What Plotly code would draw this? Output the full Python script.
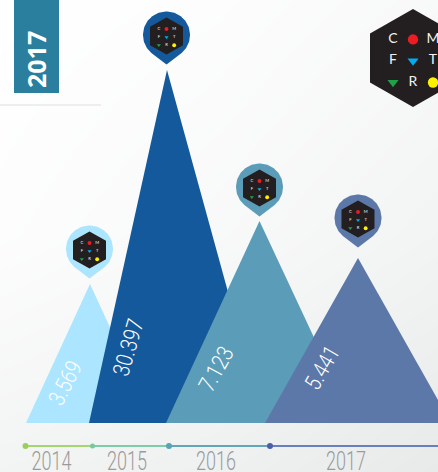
import numpy as np
import plotly.graph_objects as go

years = ["2014", "2015", "2016", "2017"]
labels = ["3.569", "30.397", "7.123", "5.441"]
peak_heights = [139, 353, 202, 165]
colors = ["#ABE5FF", "#14599B", "#5B9DB9", "#5B78A8"]
left_base = [26, 89, 166, 265]
peak_x = [90, 167, 259.5, 358]
right_base = [154, 264, 354, 451]
pin_center_y = [174, 388, 236, 205]
label_x = [65, 128, 216, 322]
label_y = [40, 75, 54, 55]
label_angle = [-63, -74, -61, -60]
label_len = [46, 58, 47, 46]
pin_x = [89.5, 166.5, 259.5, 358]
tick_x = [25.5, 92.5, 169, 270]
tick_colors = ["#9BCF5B", "#78C7A0", "#5AA3B5", "#4A5FA8"]
seg_colors = ["#A4D56E", "#80CBA8", "#62A6B8", "#6A80BE"]
year_label_x = [51.5, 127, 216, 346]
logo_rows = [["C", "●", "M"], ["F", "▼", "T"], ["▼", "R", "●"]]

fig = go.Figure()

# background wash
fig.add_trace(go.Heatmap(
    z=[[0.0, 0.1, 0.3], [0.1, 0.3, 0.55], [0.55, 0.7, 1.0]],
    x=[0, 219, 438], y=[423, 187, -49], zsmooth="best", showscale=False, hoverinfo="skip",
    colorscale=[[0, "#FFFFFF"], [1, "#E8EAEA"]], zmin=0, zmax=1))

for i in range(4):
    fig.add_trace(go.Scatter(
        x=[left_base[i], peak_x[i], right_base[i], left_base[i]],
        y=[0, peak_heights[i], 0, 0], mode="lines", fill="toself",
        fillcolor=colors[i], line=dict(width=0), hoverinfo="skip", showlegend=False))


def logo(cx, cy, rx, ry, s):
    fig.add_trace(go.Scatter(
        x=[cx, cx + rx, cx + rx, cx, cx - rx, cx - rx, cx],
        y=[cy + ry, cy + ry / 2, cy - ry / 2, cy - ry, cy - ry / 2, cy + ry / 2, cy + ry],
        mode="lines", fill="toself", fillcolor="#231F20", line=dict(width=0),
        hoverinfo="skip", showlegend=False))
    dx, dy = rx * 0.465, ry * 0.44
    y0 = cy - ry * 0.06
    chars_x, chars_y, chars = [], [], []
    for r, row in enumerate(logo_rows):
        for c, ch in enumerate(row):
            if ch in "●▼":
                continue
            chars_x.append(cx + (c - 1) * dx)
            chars_y.append(y0 + (1 - r) * dy)
            chars.append(ch)
    fig.add_trace(go.Scatter(x=chars_x, y=chars_y, text=chars, mode="text", hoverinfo="skip",
                             textfont=dict(family="Lato", size=s, color="#F2F2F2"), showlegend=False))
    fig.add_trace(go.Scatter(
        x=[cx, cx, cx - dx, cx + dx], y=[y0 + dy, y0, y0 - dy, y0 - dy], mode="markers", hoverinfo="skip",
        marker=dict(size=[ry * 0.21, ry * 0.195, ry * 0.195, ry * 0.21], opacity=1, line=dict(width=0),
                    color=["#ED1C24", "#00AEEF", "#1FA14A", "#FFF200"],
                    symbol=["circle", "triangle-down", "triangle-down", "circle"]), showlegend=False))


theta = np.radians(np.linspace(-50, 230, 80))
for i in range(4):
    cx, cy, r = pin_x[i], pin_center_y[i], 23.5
    xs = list(cx + r * np.cos(theta)) + [cx]
    ys = list(cy + r * np.sin(theta)) + [cy - 29.5]
    fig.add_trace(go.Scatter(x=xs, y=ys, mode="lines", fill="toself", fillcolor=colors[i],
                             line=dict(width=0), hoverinfo="skip", showlegend=False))
    logo(cx, cy - 1, 16.5, 18.5, 4.2)

logo(413, 365, 43, 49, 14)

# title tab
fig.add_shape(type="rect", x0=14, x1=59, y0=330, y1=423, fillcolor="#2A7F9E", line=dict(width=0))
fig.add_shape(type="line", x0=0, x1=101, y0=318, y1=318, line=dict(color="#E8E8E8", width=1.5))
fig.add_annotation(x=36, y=363, text="<b>2017</b>", textangle=-90, showarrow=False,
                   font=dict(family="Open Sans", size=25, color="#FFFFFF"))

for i in range(4):
    fig.add_annotation(x=label_x[i], y=label_y[i], text=labels[i], textangle=label_angle[i], showarrow=False,
                       font=dict(family="Roboto", size=23, weight=300, color="#FFFFFF"))

# timeline
ends = tick_x[1:] + [438]
for i in range(4):
    fig.add_trace(go.Scatter(x=[tick_x[i], ends[i]], y=[-23, -23], mode="lines", hoverinfo="skip",
                             line=dict(color=seg_colors[i], width=2), showlegend=False))
fig.add_trace(go.Scatter(x=tick_x, y=[-23] * 4, mode="markers", hoverinfo="skip", showlegend=False,
                         marker=dict(size=[6, 5, 6, 6], opacity=1, color=tick_colors, line=dict(width=0))))
fig.add_trace(go.Scatter(x=year_label_x, y=[-41] * 4, text=years, mode="text", hoverinfo="skip", showlegend=False,
                         textfont=dict(family="Roboto", size=25, weight=300, color="#9B9B9B")))

fig.update_layout(width=438, height=472, margin=dict(l=0, r=0, t=0, b=0), showlegend=False,
                  paper_bgcolor="#FFFFFF", plot_bgcolor="rgba(0,0,0,0)",
                  xaxis=dict(range=[0, 438], visible=False, fixedrange=True),
                  yaxis=dict(range=[-49, 423], visible=False, fixedrange=True))

# condense the thin numerals to the narrow widths of the original type
lens = {labels[i]: label_len[i] for i in range(4)}
post = """
document.body.style.margin = '0';
var lens = %s;
document.querySelectorAll('text.annotation-text').forEach(function (t) {
  var n = lens[t.textContent];
  if (n) { t.setAttribute('textLength', n); t.setAttribute('lengthAdjust', 'spacingAndGlyphs'); }
});
var yrs = %s;
document.querySelectorAll('.textpoint text').forEach(function (t) {
  if (yrs.indexOf(t.textContent) >= 0) { t.setAttribute('textLength', 40); t.setAttribute('lengthAdjust', 'spacingAndGlyphs'); }
});
""" % (str(lens), str(years))
fig.write_html("out.html", config=dict(displayModeBar=False), post_script=post)
